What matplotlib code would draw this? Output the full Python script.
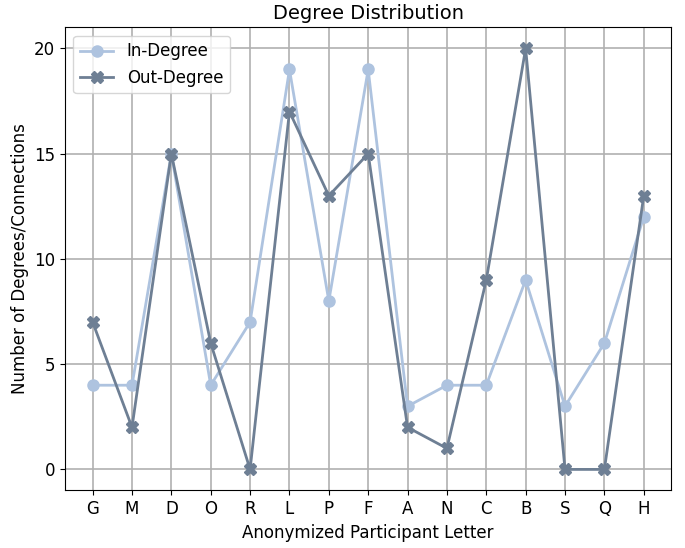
import matplotlib
matplotlib.use("Agg")
import matplotlib.pyplot as plt

participants = ["G", "M", "D", "O", "R", "L", "P", "F", "A", "N", "C", "B", "S", "Q", "H"]
in_degree = [4, 4, 15, 4, 7, 19, 8, 19, 3, 4, 4, 9, 3, 6, 12]
out_degree = [7, 2, 15, 6, 0, 17, 13, 15, 2, 1, 9, 20, 0, 0, 13]

fig, ax = plt.subplots(figsize=(6.85, 5.48), dpi=100)

ax.plot(participants, in_degree, marker="o", color="#aec3df", linewidth=2,
        markersize=8, label="In-Degree")
ax.plot(participants, out_degree, marker="X", color="#6e7f94", linewidth=2,
        markersize=8, label="Out-Degree")

ax.set_yticks([0, 5, 10, 15, 20])
ax.set_title("Degree Distribution", fontsize=14)
ax.set_xlabel("Anonymized Participant Letter", fontsize=12)
ax.set_ylabel("Number of Degrees/Connections", fontsize=12)
ax.tick_params(labelsize=12)
ax.grid(True, color="#b0b0b0", linewidth=1.2)
ax.legend(loc="upper left", fontsize=12)

fig.subplots_adjust(left=0.095, right=0.98, top=0.95, bottom=0.105)
fig.savefig("out.png")
